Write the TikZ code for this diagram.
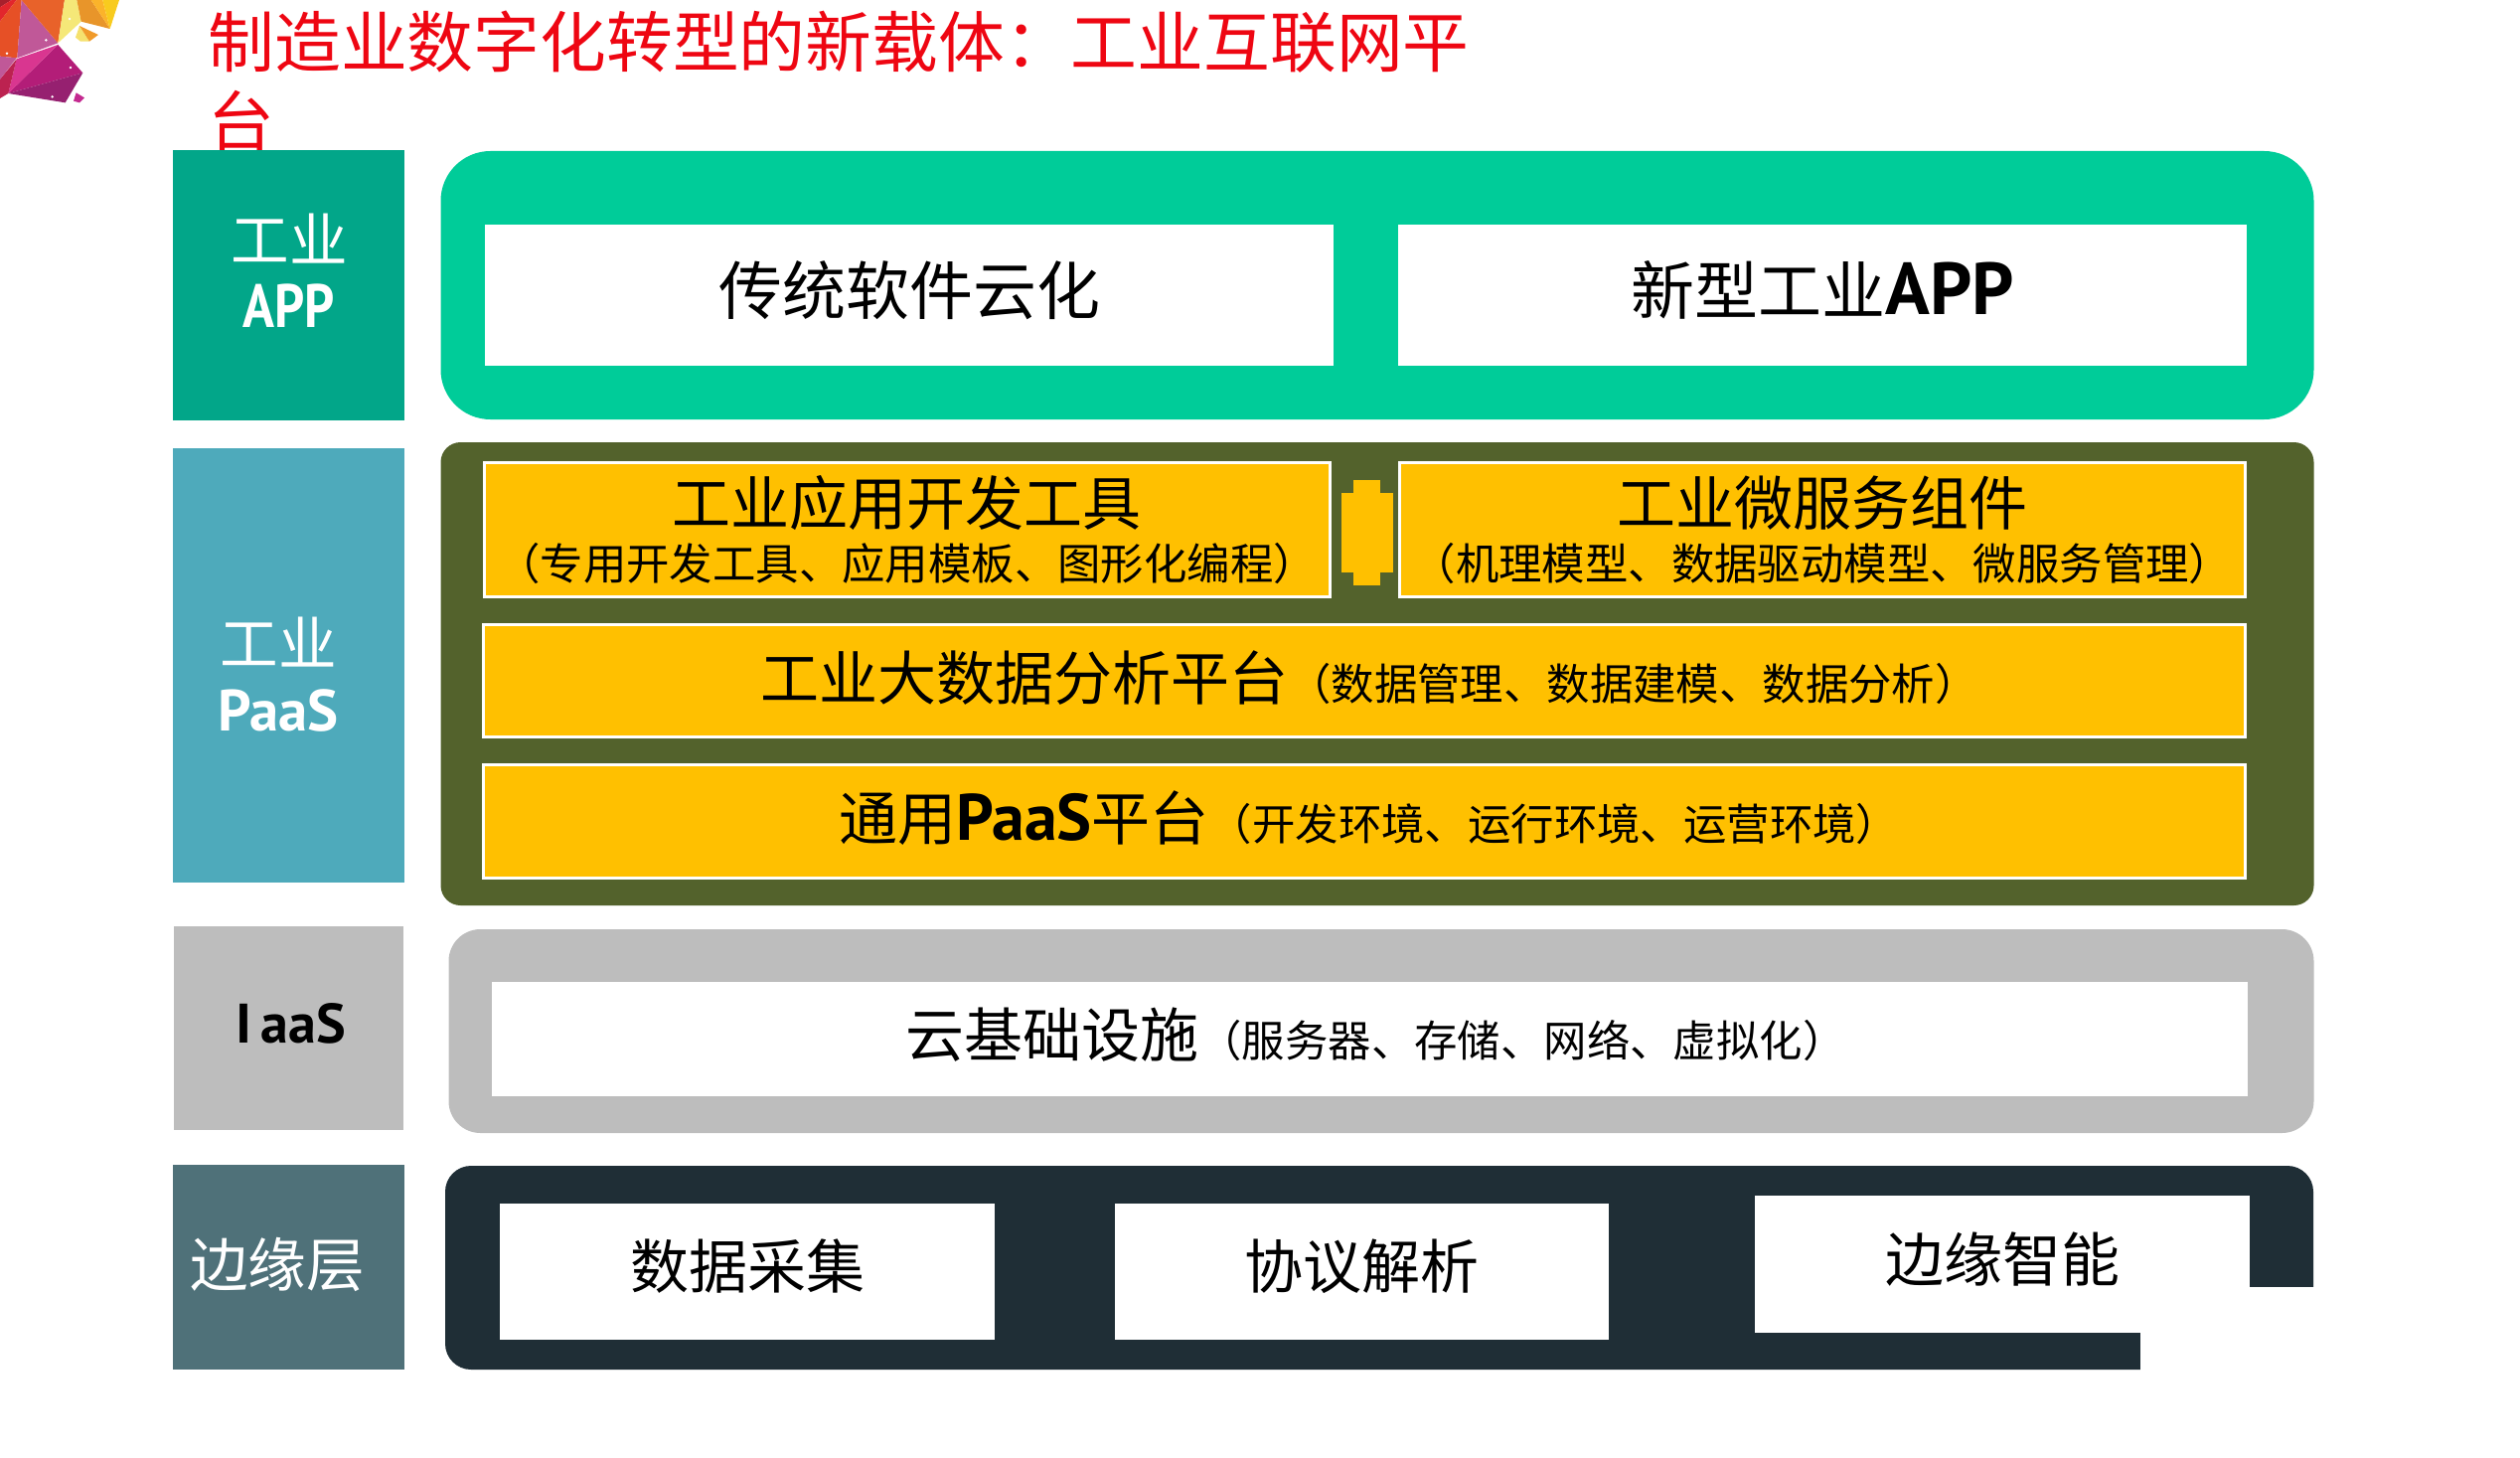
\documentclass[tikz,border=0pt]{standalone}
\usepackage{fontspec}
\setmainfont{Noto Sans CJK SC}
\newfontfamily\latinbold{PT Sans}[BoldFont={PT Sans Bold}]
\usepackage{tikz}
\usetikzlibrary{positioning}

\definecolor{titlered}{HTML}{EE0612}
\definecolor{appdark}{HTML}{02A689}
\definecolor{applight}{HTML}{00CC99}
\definecolor{paasblue}{HTML}{4EAABB}
\definecolor{olive}{HTML}{53622C}
\definecolor{amber}{HTML}{FFC000}
\definecolor{iaasgrey}{HTML}{BDBDBD}
\definecolor{edgeteal}{HTML}{4F7179}
\definecolor{edgedark}{HTML}{1F2E36}

\newcommand{\latin}[1]{{\latinbold\bfseries #1}}
\newcommand{\biglatin}[1]{{\latinbold\bfseries\fontsize{33}{34}\selectfont #1}}
\newcommand{\hugelatin}[1]{{\latinbold\bfseries\fontsize{37}{38}\selectfont #1}}
\newcommand{\bigsize}{\fontsize{29.5}{34}\selectfont}
\newcommand{\subsize}{\fontsize{21.7}{26}\selectfont}
\newcommand{\lift}[2]{\raisebox{#1}[\height][\depth]{#2}}

\tikzset{
  sidebox/.style={inner sep=0pt, outer sep=0pt},
  panel/.style={inner sep=0pt, outer sep=0pt},
  whitebox/.style={fill=white, inner sep=0pt, outer sep=0pt, align=center},
  amberbox/.style={fill=amber, draw=white, line width=1.5pt, inner sep=0pt, outer sep=0pt, align=center},
  sidetext/.style={text=white, align=center, font=\fontsize{29.3}{36}\selectfont},
  bigtext/.style={font=\bigsize}
}

\begin{document}
\begin{tikzpicture}[x=0.5pt, y=-0.5pt]

\useasboundingbox (0,0) rectangle (2536,1466);

% logo
\begin{scope}[x=0.5pt/3, y=-0.5pt/3]
\fill[fill={rgb,255:red,168;green,32;blue,44}] (0,0) -- (35,0) -- (0,22) -- cycle;
\fill[fill={rgb,255:red,226;green,38;blue,44}] (35,0) -- (50,0) -- (0,65) -- (0,22) -- cycle;
\fill[fill={rgb,255:red,230;green,80;blue,38}] (65,0) -- (52,175) -- (0,170) -- (0,65) -- (50,0) -- cycle;
\fill[fill={rgb,255:red,192;green,88;blue,152}] (65,0) -- (175,130) -- (52,175) -- cycle;
\fill[fill={rgb,255:red,232;green,98;blue,42}] (65,0) -- (195,0) -- (175,130) -- cycle;
\fill[fill={rgb,255:red,245;green,232;blue,120}] (195,0) -- (232,0) -- (245,65) -- (175,130) -- cycle;
\fill[fill={rgb,255:red,232;green,149;blue,42}] (232,0) -- (275,0) -- (332,87) -- (245,65) -- cycle;
\fill[fill={rgb,255:red,251;green,179;blue,42}] (275,0) -- (310,0) -- (332,87) -- cycle;
\fill[fill={rgb,255:red,248;green,203;blue,30}] (310,0) -- (360,0) -- (332,87) -- cycle;
\fill[fill={rgb,255:red,245;green,225;blue,110}] (240,78) -- (270,125) -- (243,125) -- (228,113) -- cycle;
\fill[fill={rgb,255:red,240;green,154;blue,42}] (240,78) -- (297,105) -- (270,125) -- cycle;
\fill[fill={rgb,255:red,179;green,29;blue,120}] (175,135) -- (250,220) -- (25,282) -- cycle;
\fill[fill={rgb,255:red,150;green,32;blue,112}] (250,220) -- (197,310) -- (25,282) -- cycle;
\fill[fill={rgb,255:red,217;green,54;blue,144}] (175,135) -- (25,282) -- (50,178) -- cycle;
\fill[fill={rgb,255:red,192;green,88;blue,152}] (0,170) -- (50,175) -- (0,240) -- cycle;
\fill[fill={rgb,255:red,188;green,34;blue,80}] (50,178) -- (25,282) -- (0,297) -- (0,240) -- cycle;
\fill[fill={rgb,255:red,196;green,42;blue,144}] (230,280) -- (255,295) -- (240,310) -- (222,305) -- cycle;
\foreach \dotx/\doty in {210/57, 139/121, 21/161, 213/204, 158/292}
  \fill[white] (\dotx,\doty) circle (0.7pt);
\end{scope}

% title, partly covered by the first label
\node[anchor=north west, align=left, text=titlered, inner sep=0pt,
      font=\fontsize{33.4}{40}\selectfont] (title) at (209,11)
  {制造业数字化转型的新载体：工业互联网平\\台};

% side labels
\node[sidebox, fill=appdark, minimum width=116.5pt, minimum height=136pt] (applabel) at (290.5,287) {};
\node[sidebox, fill=paasblue, minimum width=116.5pt, minimum height=218.5pt] (paaslabel) at (290.5,669.5) {};
\node[sidebox, fill=iaasgrey, minimum width=115.5pt, minimum height=102.5pt] (iaaslabel) at (290.5,1034.5) {};
\node[sidebox, fill=edgeteal, minimum width=116.5pt, minimum height=103pt] (edgelabel) at (290.5,1275) {};

\node[sidetext] (apptext) at (291,272) {工业\\[-3pt]\scalebox{0.9}[1.05]{\latin{APP}}};
\node[sidetext] (paastext) at (280,679) {工业\\[-3pt]\latin{PaaS}};
\node[sidetext, text=black, font=\fontsize{28}{36}\selectfont] (iaastext) at (293,1030) {\latin{I\,aaS}};
\node[sidetext] (edgetext) at (279,1272) {边缘层};

% right panels
\node[panel, fill=applight, rounded corners=25pt, minimum width=942.5pt, minimum height=135pt] (apppanel) at (1386,287) {};
\node[panel, fill=olive, rounded corners=10pt, minimum width=942.5pt, minimum height=233pt] (paaspanel) at (1386,678) {};
\node[panel, fill=iaasgrey, rounded corners=16pt, minimum width=938.5pt, minimum height=102.5pt] (iaaspanel) at (1390,1037.5) {};
\node[panel, fill=edgedark, rounded corners=13pt, minimum width=940pt, minimum height=102.5pt] (edgepanel) at (1388,1275.5) {};

% app layer
\node[whitebox, minimum width=427pt, minimum height=71pt, font=\fontsize{32}{38}\selectfont] (cloudsoft) at (915,297) {\lift{2.5pt}{传统软件云化}};
\node[whitebox, minimum width=427pt, minimum height=71pt, font=\fontsize{32}{38}\selectfont] (newapp) at (1834,297) {\lift{2.5pt}{新型工业\hugelatin{APP}}};

% paas layer
\node[amberbox, minimum width=425.5pt, minimum height=67.5pt] (devtools) at (912.5,533)
  {\bigsize 工业应用开发工具\\[5.5pt]\subsize （专用开发工具、应用模板、图形化编程）};
\node[amberbox, minimum width=425.5pt, minimum height=67.5pt] (microsvc) at (1834,533)
  {\bigsize 工业微服务组件\\[5.5pt]\subsize （机理模型、数据驱动模型、微服务管理）};
\node[amberbox, minimum width=886.5pt, minimum height=56.5pt] (bigdata) at (1373,685)
  {\hspace*{5pt}\lift{1.5pt}{\bigsize 工业大数据分析平台\subsize （数据管理、数据建模、数据分析）}};
\node[amberbox, minimum width=886.5pt, minimum height=57pt] (general) at (1373,826.5)
  {\hspace*{5pt}\lift{1.5pt}{\bigsize 通用\biglatin{PaaS}平台\subsize （开发环境、运行环境、运营环境）}};

% link between the two upper boxes
\fill[amber] (1362,483) rectangle (1389,589);
\fill[amber] (1350,496) rectangle (1402,576);

% iaas layer
\node[whitebox, minimum width=883.5pt, minimum height=57.5pt] (cloudinfra) at (1378.5,1045.5)
  {\hspace*{6pt}\lift{2pt}{\bigsize 云基础设施\subsize （服务器、存储、网络、虚拟化）}};

% edge layer
\node[whitebox, bigtext, minimum width=249pt, minimum height=68.5pt] (collect) at (752,1279.5) {\lift{2.5pt}{数据采集}};
\node[whitebox, bigtext, minimum width=248.5pt, minimum height=68.5pt] (protocol) at (1370.5,1279.5) {\lift{2.5pt}{协议解析}};
\fill[white] (2154,1341) -- (2264,1341) -- (2264,1295) -- (2340,1295) -- (2340,1390) -- (2154,1390) -- cycle;
\node[whitebox, bigtext, minimum width=249pt, minimum height=69pt] (edgeai) at (2015,1272) {\lift{2.5pt}{边缘智能}};

\end{tikzpicture}
\end{document}
